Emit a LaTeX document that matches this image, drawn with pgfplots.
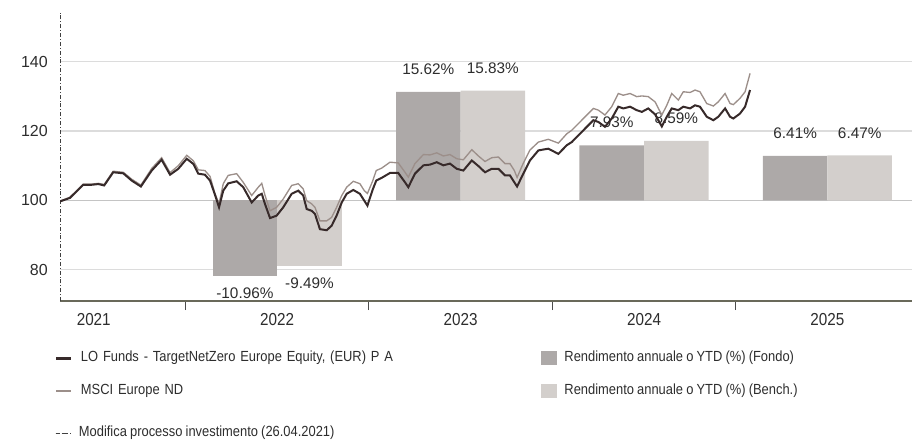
\documentclass[border=0pt]{standalone}
\usepackage{fontspec}
\setmainfont{Liberation Sans}
\newfontfamily\cond{Liberation Sans}[FakeStretch=0.88, WordSpace=0.88]
\usepackage{pgfplots}
\usepackage{pgfplotstable}
\pgfplotsset{compat=1.18}

\definecolor{fundline}{RGB}{55,42,42}
\definecolor{benchline}{RGB}{156,143,138}
\definecolor{fundbar}{RGB}{173,169,168}
\definecolor{benchbar}{RGB}{211,207,204}
\definecolor{gridc}{RGB}{220,220,220}
\definecolor{gridmid}{RGB}{196,196,196}
\definecolor{axisc}{RGB}{105,105,90}
\definecolor{txt}{RGB}{45,45,45}

\pgfplotstableread{
x y
2021.316 99.7
2021.370 100.7
2021.443 104.5
2021.489 104.5
2021.525 104.7
2021.557 104.3
2021.606 108.1
2021.661 107.8
2021.707 105.7
2021.757 104.0
2021.816 108.6
2021.870 111.7
2021.916 107.4
2021.961 109.1
2022.007 112.0
2022.043 110.5
2022.070 107.7
2022.106 107.4
2022.134 105.7
2022.161 101.6
2022.183 98.0
2022.206 102.8
2022.233 104.9
2022.279 105.5
2022.315 103.8
2022.361 99.4
2022.397 101.4
2022.416 101.9
2022.434 98.9
2022.461 94.9
2022.497 95.6
2022.533 98.0
2022.579 101.9
2022.615 102.8
2022.642 101.4
2022.661 97.5
2022.688 97.0
2022.706 96.1
2022.733 91.7
2022.770 91.4
2022.797 92.7
2022.824 95.6
2022.852 99.4
2022.879 101.9
2022.915 103.0
2022.951 101.9
2022.975 99.9
2022.992 98.5
2023.020 103.0
2023.040 105.7
2023.070 106.5
2023.115 107.9
2023.160 107.9
2023.197 105.2
2023.215 103.8
2023.251 107.7
2023.297 110.1
2023.333 110.3
2023.370 111.0
2023.406 110.1
2023.442 110.6
2023.479 109.1
2023.515 108.6
2023.561 111.5
2023.597 109.9
2023.633 108.1
2023.670 109.1
2023.706 109.1
2023.742 107.2
2023.769 107.2
2023.793 105.2
2023.808 104.0
2023.840 107.5
2023.878 111.5
2023.924 114.4
2023.978 114.9
2024.033 113.4
2024.079 115.9
2024.106 116.8
2024.151 119.2
2024.188 121.2
2024.224 123.1
2024.251 122.6
2024.287 121.2
2024.324 123.6
2024.360 127.0
2024.387 126.5
2024.424 127.0
2024.460 126.0
2024.488 125.5
2024.523 126.5
2024.560 124.8
2024.597 121.3
2024.624 124.1
2024.651 126.5
2024.687 126.0
2024.714 127.0
2024.751 126.5
2024.778 127.4
2024.805 127.0
2024.842 124.1
2024.878 123.1
2024.905 124.1
2024.942 126.5
2024.969 124.1
2024.987 123.6
2025.023 125.0
2025.051 127.0
2025.078 131.8
}\fundtable

\pgfplotstableread{
x y
2021.316 99.8
2021.370 100.9
2021.443 104.7
2021.489 104.7
2021.525 104.9
2021.557 104.6
2021.606 108.4
2021.661 108.1
2021.707 106.1
2021.757 104.4
2021.816 109.2
2021.870 112.3
2021.916 108.0
2021.961 110.0
2022.007 113.0
2022.043 111.4
2022.070 108.8
2022.106 108.6
2022.134 106.9
2022.161 101.9
2022.183 99.0
2022.206 104.8
2022.233 107.2
2022.279 107.7
2022.315 105.2
2022.361 101.4
2022.397 103.8
2022.416 104.9
2022.434 101.4
2022.461 97.0
2022.497 98.0
2022.533 100.4
2022.579 104.3
2022.615 104.8
2022.642 103.3
2022.661 99.9
2022.688 99.0
2022.706 98.0
2022.733 94.1
2022.770 94.1
2022.797 95.1
2022.824 98.0
2022.852 101.4
2022.879 103.8
2022.915 105.5
2022.951 104.8
2022.975 102.8
2022.992 102.0
2023.020 105.5
2023.040 108.6
2023.070 109.3
2023.115 111.0
2023.160 110.8
2023.197 108.1
2023.215 106.7
2023.251 110.6
2023.297 113.2
2023.333 113.1
2023.370 113.7
2023.406 112.8
2023.442 113.2
2023.479 112.0
2023.515 111.7
2023.561 114.6
2023.597 112.8
2023.633 111.2
2023.670 112.3
2023.706 112.5
2023.742 110.6
2023.769 110.6
2023.793 108.6
2023.808 106.6
2023.840 110.5
2023.878 114.5
2023.924 116.8
2023.978 117.6
2024.033 116.5
2024.079 119.2
2024.106 120.2
2024.151 122.6
2024.188 124.6
2024.224 126.5
2024.251 126.0
2024.287 124.6
2024.324 127.0
2024.360 130.8
2024.387 130.3
2024.424 130.8
2024.460 129.9
2024.488 130.1
2024.523 129.9
2024.560 128.4
2024.597 124.6
2024.624 127.4
2024.651 130.8
2024.687 128.9
2024.714 131.3
2024.751 131.1
2024.778 131.8
2024.805 131.3
2024.842 127.9
2024.878 127.2
2024.905 128.4
2024.942 130.8
2024.969 127.9
2024.987 127.6
2025.023 129.4
2025.051 131.3
2025.078 136.6
}\benchtable

\pgfplotsset{
  base/.style={
    scale only axis, width=639pt, height=216pt,
    xmin=2021.316, xmax=2025.961,
  },
  mylegend/.style={
    legend style={draw=none, fill=none, inner sep=0pt, outer sep=0pt,
      anchor=north west, column sep=6pt, row sep=14pt,
      font=\cond\fontsize{11}{13}\selectfont, text=txt,
      nodes={inner sep=0pt, text height=8.2pt, text depth=2.5pt}},
    legend cell align=left,
  },
  pctlabel/.style={
    nodes near coords={\pgfmathprintnumber[fixed,fixed zerofill,precision=2,assume math mode=true]{\pgfplotspointmeta}\%},
    nodes near coords style={font=\fontsize{11.5}{13}\selectfont, text=txt, inner sep=0pt},
  },
}

\begin{document}
\begin{tikzpicture}
% background axis: grid, ticks, labels, reference line
\begin{axis}[base, ymin=71, ymax=154, clip=false,
  axis x line*=bottom, axis y line*=left,
  x axis line style={axisc, line width=1.5pt, -},
  y axis line style={draw=none},
  xtick={2022,2023,2024,2025}, xticklabels={,,,},
  tick align=outside, major tick length=6.75pt,
  xtick style={draw=black!70, line width=0.8pt},
  ytick={80,120,140}, ytick style={draw=none},
  extra y ticks={100},
  extra y tick style={grid style={gridmid, line width=1.3pt}},
  ymajorgrids, grid style={gridc, line width=1pt},
  extra x ticks={2021.5,2022.5,2023.5,2024.5,2025.5},
  extra x tick labels={2021,2022,2023,2024,2025},
  extra x tick style={major tick length=0pt,
    tick label style={font=\cond\fontsize{13}{15}\selectfont, text=txt, anchor=north, inner sep=0pt, yshift=-9pt}},
  yticklabel style={font=\fontsize{12}{14}\selectfont, text=txt, anchor=east, inner sep=0pt, xshift=-2.25pt},
  /pgf/number format/assume math mode=true,
  mylegend,
  legend style={at={(-0.00587,-0.434)}},
]
\addplot[black!75, line width=0.6pt, dash pattern=on 3pt off 1.5pt on 0.6pt off 1.5pt,
  legend image code/.code={\path (0pt,0pt) -- (11.25pt,0pt);
    \draw[black!75, line width=0.8pt, dash pattern=on 3pt off 2.4pt on 0.8pt off 3pt] (0pt,0pt) -- (7pt,0pt);}]
  coordinates {(2021.316,71) (2021.316,154)};
\addlegendentry{Modifica processo investimento (26.04.2021)}
\coordinate (SW) at (rel axis cs:0,0);
\coordinate (NE) at (rel axis cs:1,1);
\end{axis}

% bars: annual returns, base 100, y unit = 2 index points
\begin{axis}[base, ymin=-14.5, ymax=27, hide axis, ybar, bar width=48.4pt, pctlabel]
\addplot[draw=none, fill=fundbar, bar shift=-24.2pt,
  nodes near coords style={anchor=north, yshift=-8.5pt}] coordinates {(2022.5,-10.96)};
\addplot[draw=none, fill=benchbar, bar shift=24.2pt,
  nodes near coords style={anchor=north, yshift=-8.5pt}] coordinates {(2022.5,-9.49)};
\addplot[draw=none, fill=fundbar, bar shift=-24.2pt,
  nodes near coords style={anchor=south, yshift=12.75pt}] coordinates {(2023.5,15.62) (2024.5,7.93) (2025.5,6.41)};
\addplot[draw=none, fill=benchbar, bar shift=24.2pt,
  nodes near coords style={anchor=south, yshift=12.75pt}] coordinates {(2023.5,15.83) (2024.5,8.59) (2025.5,6.47)};
\end{axis}

% index lines
\begin{axis}[base, ymin=71, ymax=154, hide axis, mylegend,
  legend columns=2, legend style={at={(-0.00587,-0.1736)}}]
\addplot[benchline, line width=1pt, forget plot] table {\benchtable};
\addplot[fundline, line width=1.5pt, forget plot] table {\fundtable};
\addlegendimage{legend image code/.code={\draw[fundline, line width=2.2pt] (0pt,0pt) -- (11.25pt,0pt);}}
\addlegendentry[text width=339pt]{LO Funds - TargetNetZero Europe Equity, (EUR) P A}
\addlegendimage{legend image code/.code={\fill[fundbar] (0pt,-4.9pt) rectangle (11.25pt,4.9pt);}}
\addlegendentry{Rendimento annuale o YTD (\%) (Fondo)}
\addlegendimage{legend image code/.code={\draw[benchline, line width=1.5pt] (0pt,0pt) -- (11.25pt,0pt);}}
\addlegendentry[text width=339pt]{MSCI Europe ND}
\addlegendimage{legend image code/.code={\fill[benchbar] (0pt,-4.9pt) rectangle (11.25pt,4.9pt);}}
\addlegendentry{Rendimento annuale o YTD (\%) (Bench.)}
\end{axis}

\pgfresetboundingbox
\path[use as bounding box] ([shift={(-45pt,-103.5pt)}]SW) rectangle ([shift={(0pt,9.75pt)}]NE);
\end{tikzpicture}
\end{document}
